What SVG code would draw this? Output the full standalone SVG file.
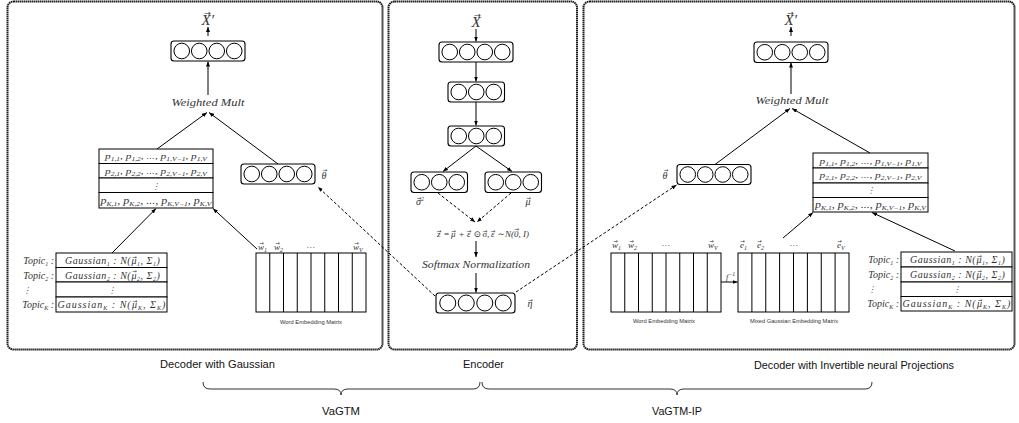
<svg xmlns="http://www.w3.org/2000/svg" width="1019" height="423" viewBox="0 0 1019 423">
<defs>
<marker id="ah" markerUnits="userSpaceOnUse" markerWidth="5" markerHeight="4" refX="5" refY="2" orient="auto">
<path d="M0,0 L5,2 L0,4 z" fill="#000"/>
</marker>
</defs>
<style>
.panel{fill:none;stroke:#1e1e1e;stroke-width:2;stroke-dasharray:1.5 0.5}
.box{fill:#fff;stroke:#000;stroke-width:1.1}
.c{fill:none;stroke:#000;stroke-width:1}
.cell{fill:#fff;stroke:#000;stroke-width:1}
.ln{stroke:#000;stroke-width:1;fill:none;marker-end:url(#ah)}
.dash{stroke-dasharray:3 2}
.m{font-family:"Liberation Serif","DejaVu Serif",serif;font-style:italic;fill:#333}
.g{font-size:10px;letter-spacing:0.5px}
.gk{font-size:10px;letter-spacing:1px}
.s{font-size:6px;baseline-shift:-2px}
.sup{font-size:6px;baseline-shift:4px}
.ar{font-family:"DejaVu Sans",sans-serif;font-size:5.5px;font-style:normal;letter-spacing:0}
.arX{font-family:"DejaVu Sans",sans-serif;font-size:8px;font-style:normal}
.lbl{font-family:"Liberation Sans",Arial,sans-serif;font-size:10.5px;fill:#111}
.small{font-family:"Liberation Sans",Arial,sans-serif;font-size:5px;fill:#333}
.brace{fill:none;stroke:#333;stroke-width:1}
</style>

<rect class="panel" x="7.5" y="1.5" width="375" height="348" rx="6"/>
<rect class="panel" x="388.5" y="1.5" width="188.5" height="348" rx="6"/>
<rect class="panel" x="583.5" y="1.5" width="431" height="348" rx="6"/>

<!-- LEFT PANEL: Decoder with Gaussian -->
<g id="left-xprime">
<text class="m" x="201.5" y="25" font-size="15">X′<tspan class="arX" x="204.2" y="15.5">→</tspan></text>
</g>
<g id="left-output-layer">
<rect class="box" x="171" y="41" width="74" height="20" rx="3"/>
<circle class="c" cx="181.75" cy="51" r="7.8"/><circle class="c" cx="199.25" cy="51" r="7.8"/><circle class="c" cx="216.75" cy="51" r="7.8"/><circle class="c" cx="234.25" cy="51" r="7.8"/>
</g>
<g id="left-weighted-mult">
<text class="m" x="208" y="106" font-size="9.5" text-anchor="middle" textLength="73" lengthAdjust="spacingAndGlyphs">Weighted Mult</text>
</g>
<g id="left-p-matrix">
<rect class="cell" x="99" y="149" width="114" height="14.5"/>
<rect class="cell" x="99" y="163.5" width="114" height="14.5"/>
<rect class="cell" x="99" y="178" width="114" height="14.5"/>
<rect class="cell" x="99" y="192.5" width="114" height="15.5"/>
<text class="m" x="156" y="159" font-size="9" text-anchor="middle" textLength="102" lengthAdjust="spacingAndGlyphs">p<tspan class="s">1,1</tspan>, p<tspan class="s">1,2</tspan>, ..., p<tspan class="s">1,V−1</tspan>, p<tspan class="s">1,V</tspan></text>
<text class="m" x="156" y="173.5" font-size="9" text-anchor="middle" textLength="102" lengthAdjust="spacingAndGlyphs">p<tspan class="s">2,1</tspan>, p<tspan class="s">2,2</tspan>, ..., p<tspan class="s">2,V−1</tspan>, p<tspan class="s">2,V</tspan></text>
<text class="m" x="156" y="189" font-size="8" text-anchor="middle">⋮</text>
<text class="m" x="156" y="204" font-size="9.5" text-anchor="middle" textLength="111" lengthAdjust="spacingAndGlyphs">p<tspan class="s">K,1</tspan>, p<tspan class="s">K,2</tspan>, ..., p<tspan class="s">K,V−1</tspan>, p<tspan class="s">K,V</tspan></text>
</g>
<g id="left-theta">
<rect class="box" x="241" y="164" width="74" height="20" rx="3"/>
<circle class="c" cx="251.75" cy="174" r="7.8"/><circle class="c" cx="269.25" cy="174" r="7.8"/><circle class="c" cx="286.75" cy="174" r="7.8"/><circle class="c" cx="304.25" cy="174" r="7.8"/>
<text class="m" x="324" y="179" font-size="10" text-anchor="middle">θ<tspan class="ar" x="325" y="172">→</tspan></text>
</g>
<g id="left-gaussians">
<rect class="cell" x="56" y="253" width="111" height="14.5"/>
<rect class="cell" x="56" y="267.5" width="111" height="14.5"/>
<rect class="cell" x="56" y="282" width="111" height="15"/>
<rect class="cell" x="56" y="297" width="111" height="15"/>
<text class="m g" y="264"><tspan x="65">Gaussian<tspan class="s">1</tspan> : N(</tspan><tspan x="131.5">μ<tspan class="s">1</tspan>, Σ<tspan class="s">1</tspan>)</tspan><tspan class="ar" x="132.2" y="258.5">→</tspan></text>
<text class="m g" y="278.5"><tspan x="65">Gaussian<tspan class="s">2</tspan> : N(</tspan><tspan x="131.5">μ<tspan class="s">2</tspan>, Σ<tspan class="s">2</tspan>)</tspan><tspan class="ar" x="132.2" y="273">→</tspan></text>
<text class="m" x="111.5" y="293" font-size="8" text-anchor="middle">⋮</text>
<text class="m gk" y="308"><tspan x="57.5">Gaussian<tspan class="s">K</tspan> : N(</tspan><tspan x="132">μ<tspan class="s">K</tspan>, Σ<tspan class="s">K</tspan>)</tspan><tspan class="ar" x="132.7" y="302.5">→</tspan></text>
<text class="m" x="54" y="264" font-size="10" text-anchor="end">Topic<tspan class="s">1</tspan> :</text>
<text class="m" x="54" y="278.5" font-size="10" text-anchor="end">Topic<tspan class="s">2</tspan> :</text>
<text class="m" x="27" y="293" font-size="8" text-anchor="middle">⋮</text>
<text class="m" x="54" y="308" font-size="10" text-anchor="end">Topic<tspan class="s">K</tspan> :</text>
</g>
<g id="left-word-embedding">
<rect class="cell" x="256" y="253" width="110" height="59"/>
<path class="c" d="M269.75,253V312M283.5,253V312M297.25,253V312M311,253V312M324.75,253V312M338.5,253V312M352.25,253V312"/>
<text class="m" x="258" y="250" font-size="9">w<tspan class="s">1</tspan><tspan class="ar" x="259.2" y="245">→</tspan></text>
<text class="m" x="274" y="250" font-size="9">w<tspan class="s">2</tspan><tspan class="ar" x="275.2" y="245">→</tspan></text>
<text class="m" x="311" y="248" font-size="9" text-anchor="middle">…</text>
<text class="m" x="353" y="250" font-size="9">w<tspan class="s">V</tspan><tspan class="ar" x="354.2" y="245">→</tspan></text>
<text class="small" x="311" y="323.5" text-anchor="middle" textLength="62" lengthAdjust="spacingAndGlyphs">Word Embedding Matrix</text>
</g>

<!-- CENTER PANEL: Encoder -->
<g id="enc-x">
<text class="m" x="476" y="27" font-size="15" text-anchor="middle">X<tspan class="arX" x="477.5" y="17.5">→</tspan></text>
</g>
<g id="enc-layer1">
<rect class="box" x="439" y="42" width="74" height="20" rx="3"/>
<circle class="c" cx="449.75" cy="52" r="7.8"/><circle class="c" cx="467.25" cy="52" r="7.8"/><circle class="c" cx="484.75" cy="52" r="7.8"/><circle class="c" cx="502.25" cy="52" r="7.8"/>
</g>
<g id="enc-layer2">
<rect class="box" x="448" y="82" width="56.5" height="20" rx="3"/>
<circle class="c" cx="458.75" cy="92" r="7.8"/><circle class="c" cx="476.25" cy="92" r="7.8"/><circle class="c" cx="493.75" cy="92" r="7.8"/>
</g>
<g id="enc-layer3">
<rect class="box" x="448" y="126" width="56.5" height="20" rx="3"/>
<circle class="c" cx="458.75" cy="136" r="7.8"/><circle class="c" cx="476.25" cy="136" r="7.8"/><circle class="c" cx="493.75" cy="136" r="7.8"/>
</g>
<g id="enc-sigma">
<rect class="box" x="411" y="172" width="56.5" height="20.5" rx="3"/>
<circle class="c" cx="421.75" cy="182.25" r="7.8"/><circle class="c" cx="439.25" cy="182.25" r="7.8"/><circle class="c" cx="456.75" cy="182.25" r="7.8"/>
<text class="m" x="416" y="205" font-size="10">σ<tspan class="sup">2</tspan><tspan class="ar" x="416.7" y="200">→</tspan></text>
</g>
<g id="enc-mu">
<rect class="box" x="485" y="172" width="56.5" height="20.5" rx="3"/>
<circle class="c" cx="495.75" cy="182.25" r="7.8"/><circle class="c" cx="513.25" cy="182.25" r="7.8"/><circle class="c" cx="530.75" cy="182.25" r="7.8"/>
<text class="m" x="528" y="205" font-size="10" text-anchor="middle">μ<tspan class="ar" x="528.5" y="200">→</tspan></text>
</g>
<g id="enc-reparam">
<text class="m" y="237" font-size="9"><tspan x="437">z</tspan><tspan x="443.5">=</tspan><tspan x="451">μ</tspan><tspan x="458.5">+</tspan><tspan x="467">ε</tspan><tspan x="473.5">⊙</tspan><tspan x="482.5">σ,</tspan><tspan x="491">ε</tspan><tspan x="497.5">∼</tspan><tspan x="505">N(</tspan><tspan x="514">0, I)</tspan><tspan class="ar" x="436.7" y="232.5">→</tspan><tspan class="ar" x="451.2" y="232.5">→</tspan><tspan class="ar" x="466.7" y="232.5">→</tspan><tspan class="ar" x="482.7" y="232.5">→</tspan><tspan class="ar" x="490.7" y="232.5">→</tspan><tspan class="ar" x="514.5" y="230.5">→</tspan></text>
</g>
<g id="enc-softmax">
<text class="m" x="476" y="268" font-size="9.5" text-anchor="middle" textLength="108" lengthAdjust="spacingAndGlyphs">Softmax Normalization</text>
</g>
<g id="enc-eta">
<rect class="box" x="436" y="293" width="79" height="20" rx="3"/>
<circle class="c" cx="447.75" cy="303" r="8"/><circle class="c" cx="466.25" cy="303" r="8"/><circle class="c" cx="484.75" cy="303" r="8"/><circle class="c" cx="503.25" cy="303" r="8"/>
<text class="m" x="530" y="307" font-size="10" text-anchor="middle">η<tspan class="ar" x="530.5" y="302">→</tspan></text>
</g>

<!-- RIGHT PANEL: Decoder with Invertible neural Projections -->
<g id="right-xprime">
<text class="m" x="784.5" y="25" font-size="15">X′<tspan class="arX" x="787.2" y="15.5">→</tspan></text>
</g>
<g id="right-output-layer">
<rect class="box" x="754" y="42" width="74" height="20.5" rx="3"/>
<circle class="c" cx="764.75" cy="52.25" r="7.8"/><circle class="c" cx="782.25" cy="52.25" r="7.8"/><circle class="c" cx="799.75" cy="52.25" r="7.8"/><circle class="c" cx="817.25" cy="52.25" r="7.8"/>
</g>
<g id="right-weighted-mult">
<text class="m" x="792" y="104" font-size="9.5" text-anchor="middle" textLength="73" lengthAdjust="spacingAndGlyphs">Weighted Mult</text>
</g>
<g id="right-theta">
<rect class="box" x="677" y="164.5" width="74" height="20" rx="3"/>
<circle class="c" cx="687.75" cy="174.5" r="7.8"/><circle class="c" cx="705.25" cy="174.5" r="7.8"/><circle class="c" cx="722.75" cy="174.5" r="7.8"/><circle class="c" cx="740.25" cy="174.5" r="7.8"/>
<text class="m" x="665" y="179" font-size="10" text-anchor="middle">θ<tspan class="ar" x="666" y="172">→</tspan></text>
</g>
<g id="right-p-matrix">
<rect class="cell" x="813" y="153" width="115" height="15"/>
<rect class="cell" x="813" y="168" width="115" height="15"/>
<rect class="cell" x="813" y="183" width="115" height="14.5"/>
<rect class="cell" x="813" y="197.5" width="115" height="14.5"/>
<text class="m" x="870.5" y="163.5" font-size="9" text-anchor="middle" textLength="102" lengthAdjust="spacingAndGlyphs">p<tspan class="s">1,1</tspan>, p<tspan class="s">1,2</tspan>, ..., p<tspan class="s">1,V−1</tspan>, p<tspan class="s">1,V</tspan></text>
<text class="m" x="870.5" y="178" font-size="9" text-anchor="middle" textLength="102" lengthAdjust="spacingAndGlyphs">p<tspan class="s">2,1</tspan>, p<tspan class="s">2,2</tspan>, ..., p<tspan class="s">2,V−1</tspan>, p<tspan class="s">2,V</tspan></text>
<text class="m" x="870.5" y="193" font-size="8" text-anchor="middle">⋮</text>
<text class="m" x="870.5" y="208" font-size="9.5" text-anchor="middle" textLength="111" lengthAdjust="spacingAndGlyphs">p<tspan class="s">K,1</tspan>, p<tspan class="s">K,2</tspan>, ..., p<tspan class="s">K,V−1</tspan>, p<tspan class="s">K,V</tspan></text>
</g>
<g id="right-word-embedding">
<rect class="cell" x="611" y="253" width="110" height="59"/>
<path class="c" d="M624.75,253V312M638.5,253V312M652.25,253V312M666,253V312M679.75,253V312M693.5,253V312M707.25,253V312"/>
<text class="m" x="612" y="248" font-size="9">w<tspan class="s">1</tspan><tspan class="ar" x="613.2" y="243">→</tspan></text>
<text class="m" x="628" y="248" font-size="9">w<tspan class="s">2</tspan><tspan class="ar" x="629.2" y="243">→</tspan></text>
<text class="m" x="666" y="246" font-size="9" text-anchor="middle">…</text>
<text class="m" x="708" y="248" font-size="9">w<tspan class="s">V</tspan><tspan class="ar" x="709.2" y="243">→</tspan></text>
<text class="small" x="664" y="322.5" text-anchor="middle" textLength="62" lengthAdjust="spacingAndGlyphs">Word Embedding Matrix</text>
</g>
<g id="right-finv">
<text class="m" x="726" y="280" font-size="8">f<tspan class="sup">−1</tspan></text>
</g>
<g id="right-mixed-embedding">
<rect class="cell" x="738" y="253" width="111" height="59"/>
<path class="c" d="M751.9,253V312M765.75,253V312M779.6,253V312M793.5,253V312M807.4,253V312M821.25,253V312M835.1,253V312"/>
<text class="m" x="740" y="248" font-size="9">e<tspan class="s">1</tspan><tspan class="ar" x="740.2" y="243">→</tspan></text>
<text class="m" x="757" y="248" font-size="9">e<tspan class="s">2</tspan><tspan class="ar" x="757.2" y="243">→</tspan></text>
<text class="m" x="794" y="246" font-size="9" text-anchor="middle">…</text>
<text class="m" x="837" y="248" font-size="9">e<tspan class="s">V</tspan><tspan class="ar" x="837.2" y="243">→</tspan></text>
<text class="small" x="794" y="322.5" text-anchor="middle" textLength="88" lengthAdjust="spacingAndGlyphs">Mixed Gaussian Embedding Matrix</text>
</g>
<g id="right-gaussians">
<rect class="cell" x="901" y="252" width="111" height="15"/>
<rect class="cell" x="901" y="267" width="111" height="15"/>
<rect class="cell" x="901" y="282" width="111" height="14.5"/>
<rect class="cell" x="901" y="296.5" width="111" height="14.5"/>
<text class="m g" y="263"><tspan x="910">Gaussian<tspan class="s">1</tspan> : N(</tspan><tspan x="976.5">μ<tspan class="s">1</tspan>, Σ<tspan class="s">1</tspan>)</tspan><tspan class="ar" x="977.2" y="257.5">→</tspan></text>
<text class="m g" y="278"><tspan x="910">Gaussian<tspan class="s">2</tspan> : N(</tspan><tspan x="976.5">μ<tspan class="s">2</tspan>, Σ<tspan class="s">2</tspan>)</tspan><tspan class="ar" x="977.2" y="272.5">→</tspan></text>
<text class="m" x="956.5" y="292" font-size="8" text-anchor="middle">⋮</text>
<text class="m gk" y="307"><tspan x="902.5">Gaussian<tspan class="s">K</tspan> : N(</tspan><tspan x="977">μ<tspan class="s">K</tspan>, Σ<tspan class="s">K</tspan>)</tspan><tspan class="ar" x="977.7" y="301.5">→</tspan></text>
<text class="m" x="899" y="263" font-size="10" text-anchor="end">Topic<tspan class="s">1</tspan> :</text>
<text class="m" x="899" y="278" font-size="10" text-anchor="end">Topic<tspan class="s">2</tspan> :</text>
<text class="m" x="872" y="292" font-size="8" text-anchor="middle">⋮</text>
<text class="m" x="899" y="307" font-size="10" text-anchor="end">Topic<tspan class="s">K</tspan> :</text>
</g>

<!-- CONNECTORS -->
<g id="connectors">
<line class="ln" x1="208" y1="36" x2="208" y2="27"/>
<line class="ln" x1="208" y1="95" x2="208" y2="61.5"/>
<line class="ln" x1="157" y1="149" x2="207" y2="112.5"/>
<line class="ln" x1="278" y1="164" x2="209" y2="112.5"/>
<line class="ln" x1="112" y1="253" x2="156" y2="208.5"/>
<line class="ln" x1="257" y1="249" x2="213" y2="208.5"/>
<line class="ln dash" x1="435" y1="296" x2="318" y2="187"/>

<line class="ln" x1="476" y1="29" x2="476" y2="41.5"/>
<line class="ln" x1="476" y1="62" x2="476" y2="81.5"/>
<line class="ln" x1="476" y1="102" x2="476" y2="125.5"/>
<line class="ln" x1="476" y1="146" x2="443" y2="171.5"/>
<line class="ln" x1="476" y1="146" x2="512" y2="171.5"/>
<line class="ln dash" x1="438" y1="193" x2="475" y2="222"/>
<line class="ln dash" x1="511" y1="193" x2="477" y2="222"/>
<line class="ln" x1="476" y1="241" x2="476" y2="257"/>
<line class="ln" x1="476" y1="273" x2="476" y2="292.5"/>

<line class="ln" x1="791" y1="36" x2="791" y2="27"/>
<line class="ln" x1="791" y1="94" x2="791" y2="62.5"/>
<line class="ln" x1="715" y1="164.5" x2="790" y2="108.5"/>
<line class="ln" x1="870" y1="153" x2="792" y2="108.5"/>
<line class="ln dash" x1="516" y1="292" x2="676.5" y2="185"/>
<line class="ln" x1="783" y1="238" x2="813" y2="212.5"/>
<line class="ln" x1="955" y1="251" x2="872" y2="212.5"/>
<line class="ln" x1="721" y1="282" x2="737.5" y2="282"/>
</g>

<!-- LABELS AND BRACES -->
<g id="captions">
<text class="lbl" x="217.5" y="368" text-anchor="middle" textLength="115" lengthAdjust="spacingAndGlyphs">Decoder with Gaussian</text>
<text class="lbl" x="483.5" y="368" text-anchor="middle" textLength="41" lengthAdjust="spacingAndGlyphs">Encoder</text>
<text class="lbl" x="854" y="369" text-anchor="middle" textLength="200" lengthAdjust="spacingAndGlyphs">Decoder with Invertible neural Projections</text>
</g>
<g id="brace-vagtm">
<path class="brace" d="M203,382 Q203,389 210,389 L334,389 Q341,389 341,395 Q341,389 348,389 L473,389 Q480,389 480,382"/>
<text class="lbl" x="341" y="415" text-anchor="middle" textLength="38" lengthAdjust="spacingAndGlyphs">VaGTM</text>
</g>
<g id="brace-vagtm-ip">
<path class="brace" d="M482,382 Q482,389 489,389 L670,389 Q677,389 677,395 Q677,389 684,389 L865,389 Q872,389 872,382"/>
<text class="lbl" x="677" y="415" text-anchor="middle" textLength="50" lengthAdjust="spacingAndGlyphs">VaGTM-IP</text>
</g>
</svg>
